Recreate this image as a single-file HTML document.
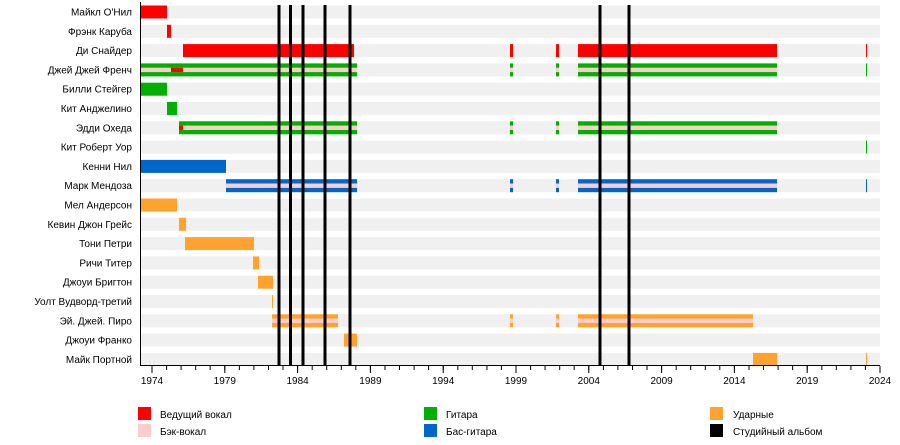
<!DOCTYPE html>
<html><head><meta charset="utf-8"><style>
html,body{margin:0;padding:0;background:#fff;}
svg{display:block;font-family:"Liberation Sans",sans-serif;}
</style></head><body>
<svg width="900" height="445" viewBox="0 0 900 445" xmlns="http://www.w3.org/2000/svg">
<g fill="#f0f0f0">
<rect x="141" y="5.5" width="739" height="13"/><rect x="141" y="24.8" width="739" height="13"/><rect x="141" y="44.1" width="739" height="13"/><rect x="141" y="63.4" width="739" height="13"/><rect x="141" y="82.7" width="739" height="13"/><rect x="141" y="102" width="739" height="13"/><rect x="141" y="121.3" width="739" height="13"/><rect x="141" y="140.6" width="739" height="13"/><rect x="141" y="159.9" width="739" height="13"/><rect x="141" y="179.2" width="739" height="13"/><rect x="141" y="198.5" width="739" height="13"/><rect x="141" y="217.8" width="739" height="13"/><rect x="141" y="237.1" width="739" height="13"/><rect x="141" y="256.4" width="739" height="13"/><rect x="141" y="275.7" width="739" height="13"/><rect x="141" y="295" width="739" height="13"/><rect x="141" y="314.3" width="739" height="13"/><rect x="141" y="333.6" width="739" height="13"/><rect x="141" y="352.9" width="739" height="13"/>
</g>
<g font-size="10" fill="#000" text-anchor="end">
<text x="132" y="15.5">Майкл О'Нил</text><text x="132" y="34.8">Фрэнк Каруба</text><text x="132" y="54.1">Ди Снайдер</text><text x="132" y="73.4">Джей Джей Френч</text><text x="132" y="92.7">Билли Стейгер</text><text x="132" y="112">Кит Анджелино</text><text x="132" y="131.3">Эдди Охеда</text><text x="132" y="150.6">Кит Роберт Уор</text><text x="132" y="169.9">Кенни Нил</text><text x="132" y="189.2">Марк Мендоза</text><text x="132" y="208.5">Мел Андерсон</text><text x="132" y="227.8">Кевин Джон Грейс</text><text x="132" y="247.1">Тони Петри</text><text x="132" y="266.4">Ричи Титер</text><text x="132" y="285.7">Джоуи Бригтон</text><text x="132" y="305">Уолт Вудворд-третий</text><text x="132" y="324.3">Эй. Джей. Пиро</text><text x="132" y="343.6">Джоуи Франко</text><text x="132" y="362.9">Майк Портной</text>
</g>
<g fill="#ff0000">
<rect x="141" y="5.5" width="26" height="13"/>
<rect x="167" y="24.8" width="4" height="13"/>
<rect x="183" y="44.1" width="171" height="13"/>
<rect x="510" y="44.1" width="3" height="13"/>
<rect x="556" y="44.1" width="3" height="13"/>
<rect x="578" y="44.1" width="199" height="13"/>
<rect x="866" y="44.1" width="1" height="13"/>
</g>
<g fill="#00b000">
<rect x="141" y="63.4" width="216" height="13"/>
<rect x="510" y="63.4" width="3" height="13"/><rect x="556" y="63.4" width="3" height="13"/><rect x="578" y="63.4" width="199" height="13"/><rect x="866" y="63.4" width="1" height="13"/>
<rect x="141" y="82.7" width="26" height="13"/>
<rect x="167" y="102" width="10" height="13"/>
<rect x="179" y="121.3" width="178" height="13"/>
<rect x="510" y="121.3" width="3" height="13"/><rect x="556" y="121.3" width="3" height="13"/><rect x="578" y="121.3" width="199" height="13"/>
<rect x="866" y="140.6" width="1" height="13"/>
</g>
<g fill="#0066cc">
<rect x="141" y="159.9" width="85" height="13"/>
<rect x="226" y="179.2" width="131" height="13"/>
<rect x="510" y="179.2" width="3" height="13"/><rect x="556" y="179.2" width="3" height="13"/><rect x="578" y="179.2" width="199" height="13"/><rect x="866" y="179.2" width="1" height="13"/>
</g>
<g fill="#ffa22e">
<rect x="141" y="198.5" width="36" height="13"/>
<rect x="179" y="217.8" width="7" height="13"/>
<rect x="185" y="237.1" width="69" height="13"/>
<rect x="253" y="256.4" width="6" height="13"/>
<rect x="258" y="275.7" width="15" height="13"/>
<rect x="272" y="295" width="1" height="13"/>
<rect x="272" y="314.3" width="66" height="13"/>
<rect x="510" y="314.3" width="3" height="13"/><rect x="556" y="314.3" width="3" height="13"/><rect x="578" y="314.3" width="175" height="13"/>
<rect x="344" y="333.6" width="13" height="13"/>
<rect x="753" y="352.9" width="24" height="13"/>
<rect x="866" y="352.9" width="1" height="13"/>
</g>
<g fill="#ffcccc">
<rect x="141" y="67.7" width="216" height="4.4"/>
<rect x="510" y="67.7" width="3" height="4.4"/><rect x="556" y="67.7" width="3" height="4.4"/><rect x="578" y="67.7" width="199" height="4.4"/>
<rect x="179" y="125.6" width="178" height="4.4"/>
<rect x="510" y="125.6" width="3" height="4.4"/><rect x="556" y="125.6" width="3" height="4.4"/><rect x="578" y="125.6" width="199" height="4.4"/>
<rect x="226" y="183.5" width="131" height="4.4"/>
<rect x="510" y="183.5" width="3" height="4.4"/><rect x="556" y="183.5" width="3" height="4.4"/><rect x="578" y="183.5" width="199" height="4.4"/>
<rect x="272" y="318.6" width="66" height="4.4"/>
<rect x="510" y="318.6" width="3" height="4.4"/><rect x="556" y="318.6" width="3" height="4.4"/><rect x="578" y="318.6" width="175" height="4.4"/>
</g>
<g fill="#ff0000">
<rect x="171" y="67.7" width="12" height="4.4"/>
<rect x="179" y="125.6" width="4" height="4.4"/>
</g>
<g stroke="#000" stroke-width="3">
<line x1="279" y1="5" x2="279" y2="366"/><line x1="290.5" y1="5" x2="290.5" y2="366"/><line x1="303" y1="5" x2="303" y2="366"/><line x1="325" y1="5" x2="325" y2="366"/><line x1="350" y1="5" x2="350" y2="366"/><line x1="600" y1="5" x2="600" y2="366"/><line x1="629" y1="5" x2="629" y2="366"/>
</g>
<g stroke="#000" stroke-width="1" fill="none">
<line x1="140.5" y1="2" x2="140.5" y2="366"/>
<line x1="140" y1="365.5" x2="880" y2="365.5"/>
<path d="M152 366v4M166.6 366v4M181.1 366v4M195.7 366v4M210.2 366v4M224.8 366v4M239.4 366v4M253.9 366v4M268.5 366v4M283 366v4M297.6 366v4M312.2 366v4M326.7 366v4M341.3 366v4M355.8 366v4M370.4 366v4M385 366v4M399.5 366v4M414.1 366v4M428.6 366v4M443.2 366v4M457.8 366v4M472.3 366v4M486.9 366v4M501.4 366v4M516 366v4M530.6 366v4M545.1 366v4M559.7 366v4M574.2 366v4M588.8 366v4M603.4 366v4M617.9 366v4M632.5 366v4M647 366v4M661.6 366v4M676.2 366v4M690.7 366v4M705.3 366v4M719.8 366v4M734.4 366v4M749 366v4M763.5 366v4M778.1 366v4M792.6 366v4M807.2 366v4M821.8 366v4M836.3 366v4M850.9 366v4M865.4 366v4M880 366v4"/>
<path d="M152 366v7M224.8 366v7M297.6 366v7M370.4 366v7M443.2 366v7M516 366v7M588.8 366v7M661.6 366v7M734.4 366v7M807.2 366v7M880 366v7"/>
</g>
<g font-size="10" fill="#000" text-anchor="middle">
<text x="152" y="384">1974</text><text x="224.8" y="384">1979</text><text x="297.6" y="384">1984</text><text x="370.4" y="384">1989</text><text x="443.2" y="384">1994</text><text x="516" y="384">1999</text><text x="588.8" y="384">2004</text><text x="661.6" y="384">2009</text><text x="734.4" y="384">2014</text><text x="807.2" y="384">2019</text><text x="880" y="384">2024</text>
</g>
<rect x="138" y="407" width="13" height="13" fill="#ff0000"/>
<rect x="138" y="424" width="13" height="13" fill="#ffcccc"/>
<rect x="424" y="407" width="13" height="13" fill="#00b000"/>
<rect x="424" y="424" width="13" height="13" fill="#0066cc"/>
<rect x="710" y="407" width="13" height="13" fill="#ffa22e"/>
<rect x="710" y="424" width="13" height="13" fill="#000"/>
<g font-size="10" fill="#000">
<text x="160" y="418">Ведущий вокал</text><text x="160" y="435">Бэк-вокал</text>
<text x="446" y="418">Гитара</text><text x="446" y="435">Бас-гитара</text>
<text x="733" y="418">Ударные</text><text x="733" y="435">Студийный альбом</text>
</g>
</svg>
</body></html>
